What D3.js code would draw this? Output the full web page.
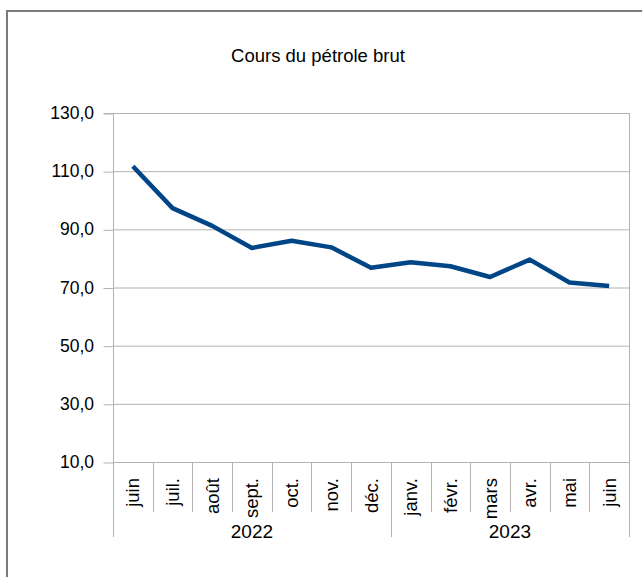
<!DOCTYPE html>
<html>
<head>
<meta charset="utf-8">
<script src="https://cdn.jsdelivr.net/npm/d3@7"></script>
<style>
  body { margin: 0; background: #fff; }
  svg text { font-family: "Liberation Sans", Arial, sans-serif; fill: #000; }
</style>
</head>
<body>
<div id="chart"></div>
<script>
// données
const months = ["juin","juil.","août","sept.","oct.","nov.","déc.","janv.","févr.","mars","avr.","mai","juin"]
const prices = [111.7, 97.3, 91.2, 83.6, 86.1, 83.8, 76.8, 78.7, 77.3, 73.6, 79.6, 71.7, 70.5]
const years = ["2022", "2023"]
const yearSpan = [7, 6]   // nombre de mois par année
const yTicks = [10, 30, 50, 70, 90, 110, 130]
const title = "Cours du pétrole brut"

// dimensions
const width = 642
const height = 577
const margin = {top: 113, left: 113, right: 13, bottom: 115}
const gridColor = '#b3b3b3'

const svg = d3.select('#chart').append('svg').attr('width', width).attr('height', height)

// cadre extérieur
svg.append('rect').attr('x', 7).attr('y', 11).attr('width', width).attr('height', height)
  .attr('fill', 'none').attr('stroke', '#7a7a7a').attr('stroke-width', 2)

// titre
svg.append('text').text(title).attr('x', 318).attr('y', 62)
  .attr('text-anchor', 'middle').attr('font-size', 18.5)

const xScale = d3.scaleBand().domain(d3.range(months.length))
  .range([margin.left, width - margin.right])
const yScale = d3.scaleLinear().domain([10, 130])
  .range([height - margin.bottom, margin.top])
const x0 = margin.left, x1 = width - margin.right
const yBottom = yScale(10)

// grille horizontale
svg.append('g').selectAll('line').data(yTicks).join('line')
  .attr('x1', x0).attr('x2', x1)
  .attr('y1', d => yScale(d) + 0.5).attr('y2', d => yScale(d) + 0.5)
  .attr('stroke', gridColor).attr('stroke-width', 1)

// bord droit
svg.append('line').attr('x1', x1 + 0.5).attr('x2', x1 + 0.5)
  .attr('y1', yScale(130)).attr('y2', yBottom)
  .attr('stroke', gridColor)

// axe des y
const yAxis = d3.axisLeft(yScale).tickValues(yTicks).tickSize(10).tickPadding(9.5)
  .tickFormat(d => d3.format('.1f')(d).replace('.', ','))
const gy = svg.append('g').attr('transform', `translate(${x0 + 0.5},0)`).call(yAxis)
gy.select('.domain').attr('stroke', gridColor).attr('d', `M-10,${yScale(130) + 0.5}H0V${yBottom}`)
gy.selectAll('.tick line').attr('stroke', gridColor).attr('transform', 'translate(0,0.5)')
gy.selectAll('.tick text').attr('font-size', 17.5).attr('font-family', '"Liberation Sans", Arial, sans-serif')
  .attr('fill', '#000')

// séparateurs des mois
const bw = xScale.bandwidth()
const bounds = d3.range(months.length + 1).map(i => x0 + i * bw)
svg.append('g').selectAll('line').data(bounds).join('line')
  .attr('x1', d => Math.round(d) + 0.5).attr('x2', d => Math.round(d) + 0.5)
  .attr('y1', yBottom).attr('y2', yBottom + 50)
  .attr('stroke', gridColor)

// étiquettes des mois (verticales)
svg.append('g').selectAll('text').data(months).join('text')
  .text(d => d)
  .attr('transform', (d, i) => `translate(${xScale(i) + bw / 2 + 6.5},${yBottom + 16}) rotate(-90)`)
  .attr('text-anchor', 'end').attr('font-size', 18.5)

// séparateurs des années
let acc = 0
const yearBounds = [0]
yearSpan.forEach(n => { acc += n; yearBounds.push(acc) })
svg.append('g').selectAll('line').data(yearBounds).join('line')
  .attr('x1', d => Math.round(x0 + d * bw) + 0.5).attr('x2', d => Math.round(x0 + d * bw) + 0.5)
  .attr('y1', yBottom).attr('y2', yBottom + 75)
  .attr('stroke', gridColor)

svg.append('g').selectAll('text').data(years).join('text')
  .text(d => d)
  .attr('x', (d, i) => x0 + (yearBounds[i] + yearBounds[i + 1]) / 2 * bw)
  .attr('y', yBottom + 76)
  .attr('text-anchor', 'middle').attr('font-size', 19)

// courbe
const line = d3.line().x((d, i) => xScale(i) + bw / 2).y(d => yScale(d))
svg.append('path').datum(prices).attr('d', line)
  .attr('fill', 'none').attr('stroke', '#004586').attr('stroke-width', 4.5)
  .attr('stroke-linejoin', 'round')
</script>
</body>
</html>
